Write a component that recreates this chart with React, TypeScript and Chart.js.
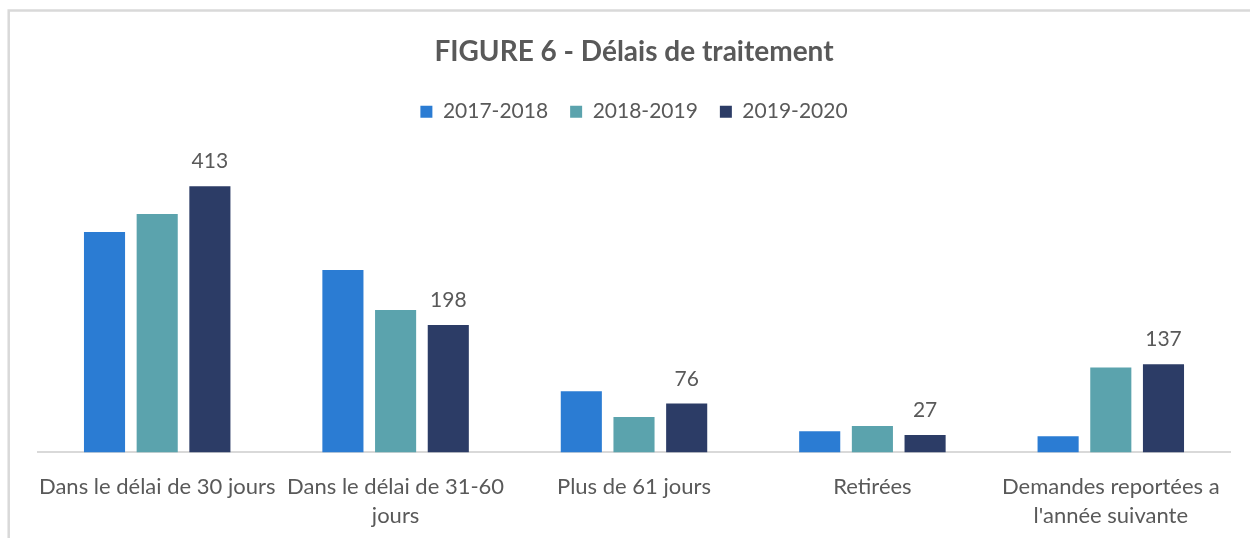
import React, { useEffect, useRef } from "react";
import { Chart, registerables } from "chart.js";

Chart.register(...registerables);

const categories: (string | string[])[] = [
  "Dans le délai de 30 jours",
  ["Dans le délai de 31-60", "jours"],
  "Plus de 61 jours",
  "Retirées",
  ["Demandes reportées a", "l'année suivante"],
];
const seriesNames = ["2017-2018", "2018-2019", "2019-2020"];
const values2017 = [342, 283, 95, 33, 25];
const values2018 = [370, 221, 55, 41, 132];
const values2019 = [413, 198, 76, 27, 137];
const colors = ["#2B7CD3", "#5BA3AD", "#2C3C66"];
const labelledSeries = 2;

const frame = {
  id: "frame",
  beforeDraw(chart: any) {
    const ctx = chart.ctx;
    ctx.save();
    ctx.strokeStyle = "#d9d9d9";
    ctx.lineWidth = 2.5;
    ctx.beginPath();
    ctx.moveTo(8.7, chart.height);
    ctx.lineTo(8.7, 10.5);
    ctx.lineTo(chart.width, 10.5);
    ctx.stroke();
    ctx.restore();
  },
};

const valueLabels = {
  id: "valueLabels",
  afterDatasetsDraw(chart: any) {
    const ctx = chart.ctx;
    const meta = chart.getDatasetMeta(labelledSeries);
    const data = chart.data.datasets[labelledSeries].data;
    ctx.save();
    ctx.font = "21px Lato";
    ctx.fillStyle = "#595959";
    ctx.textAlign = "center";
    ctx.textBaseline = "alphabetic";
    meta.data.forEach((bar: any, i: number) => {
      ctx.fillText(String(data[i]), bar.x, bar.y - 18);
    });
    ctx.restore();
  },
};

export default function App() {
  const ref = useRef<HTMLCanvasElement | null>(null);
  useEffect(() => {
    document.body.style.margin = "0";
    let chart: Chart | null = null;
    let cancelled = false;
    const make = () => {
      if (cancelled || !ref.current) return;
      chart = new Chart(ref.current, {
        type: "bar",
        data: {
          labels: categories,
          datasets: [values2017, values2018, values2019].map((d, i) => ({
            label: seriesNames[i],
            data: d,
            backgroundColor: colors[i],
            borderWidth: 0,
            categoryPercentage: 0.663,
            barPercentage: 0.78,
          })),
        },
        options: {
          animation: false,
          responsive: false,
          maintainAspectRatio: false,
          layout: { padding: { left: 38, right: 20, top: 0, bottom: -13 } },
          plugins: {
            title: {
              display: true,
              text: "FIGURE 6 - Délais de traitement",
              color: "#595959",
              font: { family: "Lato", size: 28, weight: "bold", lineHeight: 1.2 },
              padding: { top: 35, bottom: 10.6 },
            },
            legend: {
              display: true,
              position: "top",
              labels: {
                color: "#595959",
                font: { family: "Lato", size: 21 },
                boxWidth: 12,
                boxHeight: 12,
                padding: 22,
              },
            },
            tooltip: { enabled: false },
          },
          scales: {
            x: {
              grid: { display: false, drawTicks: false },
              border: { display: true, color: "#d9d9d9", width: 2 },
              ticks: {
                color: "#595959",
                font: { family: "Lato", size: 22, lineHeight: 1.33 },
                padding: 20,
                autoSkip: false,
                maxRotation: 0,
                minRotation: 0,
              },
            },
            y: {
              display: false,
              min: 0,
              max: 497,
            },
          },
        },
        plugins: [frame, valueLabels],
      });
    };
    if ((document as any).fonts && (document as any).fonts.load) {
      Promise.all([
        (document as any).fonts.load("21px Lato"),
        (document as any).fonts.load("bold 28px Lato"),
      ]).then(make, make);
    } else {
      make();
    }
    return () => {
      cancelled = true;
      if (chart) chart.destroy();
    };
  }, []);
  return <canvas ref={ref} width={1250} height={538} style={{ display: "block" }} />;
}
